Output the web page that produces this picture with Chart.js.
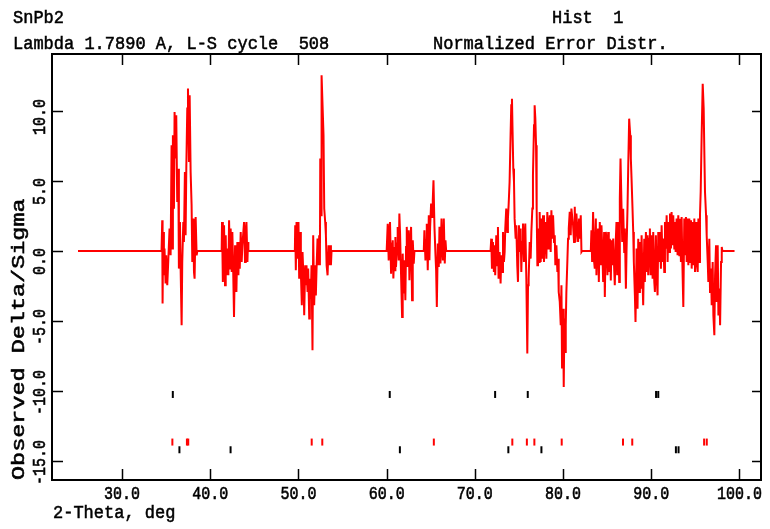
<!DOCTYPE html>
<html>
<head>
<meta charset="utf-8">
<title>SnPb2 - Normalized Error Distr.</title>
<script src="https://cdn.jsdelivr.net/npm/chart.js@4.4.1/dist/chart.umd.min.js"></script>
<style>
  html, body { margin: 0; padding: 0; background: #fff; }
  #wrap { width: 770px; height: 529px; }
</style>
</head>
<body>
<div id="wrap"><canvas id="errChart" width="770" height="529"></canvas></div>
<script>
// axis limits and ticks
const xRange = [22.05, 102.45];
const yRange = [-16.36, 14.07];
const xTicks = [30, 40, 50, 60, 70, 80, 90, 100];
const yTicks = [-15, -10, -5, 0, 5, 10];

// end points of the excluded-region zero line
const traceStart = [25.0, 0];
const traceEnd = [99.45, 0];

// delta/sigma per fitted region, [2-theta, value]
const band1 = [[34.47,0],[34.55,2.19],[34.59,-3.76],[34.66,1.36],[34.74,-1.74],[34.81,0.17],[34.93,-2.33],[35.00,-0.31],[35.12,-2.45],[35.23,-0.79],[35.38,1.60],[35.50,-0.31],[35.61,7.55],[35.69,0.17],[35.76,8.26],[35.88,3.02],[35.95,9.93],[36.06,6.6],[36.14,9.7],[36.25,3.5],[36.37,5.88],[36.44,-1.26],[36.56,2.07],[36.63,-1.02],[36.75,-5.31],[36.82,-0.79],[36.94,2.07],[37.01,0.64],[37.12,5.64],[37.20,1.12],[37.28,5.88],[37.39,10.17],[37.47,11.6],[37.58,6.36],[37.66,11.12],[37.77,5.64],[37.88,3.26],[37.96,-0.79],[38.07,2.31],[38.15,-1.5],[38.22,-1.98],[38.34,2.43],[38.45,-0.31],[38.53,0]];

const band2 = [[41.29,0],[41.33,2.07],[41.41,-0.67],[41.44,-2.21],[41.56,1.84],[41.67,-2.45],[41.75,1.12],[41.82,-1.74],[41.94,0.17],[42.05,-1.74],[42.13,2.19],[42.24,-1.26],[42.31,1.6],[42.43,-1.5],[42.50,1.36],[42.58,-0.79],[42.69,-4.71],[42.81,0.41],[42.88,-1.74],[42.96,-2.93],[43.07,0.64],[43.19,-1.74],[43.26,0.64],[43.34,-1.26],[43.45,1.36],[43.56,-0.79],[43.64,0.41],[43.75,1.36],[43.83,2.07],[43.94,-0.79],[44.02,1.36],[44.10,2.07],[44.21,-0.79],[44.28,0.64],[44.32,0]];

const band3 = [[49.59,0],[49.63,1.84],[49.70,-1.38],[49.78,2.07],[49.89,-0.55],[50.00,2.07],[50.08,-1.98],[50.19,1.36],[50.27,-1.5],[50.38,-3.88],[50.46,-0.07],[50.57,-1.98],[50.65,-4.59],[50.76,-1.02],[50.84,-2.45],[50.91,-1.02],[51.03,-2.93],[51.10,-1.26],[51.22,-4.83],[51.29,-1.98],[51.40,-3.4],[51.48,-1.02],[51.59,-7.09],[51.67,1.12],[51.78,-3.88],[51.90,-1.02],[51.97,-3.17],[52.05,-1.26],[52.16,0.88],[52.28,-1.02],[52.35,1.12],[52.43,-1.02],[52.47,6.6],[52.58,2.55],[52.62,12.55],[52.73,10.41],[52.84,8.26],[52.92,3.03],[53.03,2.07],[53.11,1.12],[53.19,-1.02],[53.30,-1.74],[53.41,0.41],[53.49,-1.02],[53.60,0.41],[53.68,-1.02],[53.75,0]];

const band4 = [[60.00,0],[60.12,1.95],[60.23,-0.67],[60.31,1.24],[60.38,2.07],[60.50,-1.62],[60.61,0.53],[60.69,0.76],[60.76,-1.97],[60.87,0.29],[60.95,-1.38],[60.99,1.0],[61.06,-1.14],[61.18,0.53],[61.25,1.72],[61.37,-0.67],[61.44,2.67],[61.52,1.24],[61.63,-1.62],[61.75,-4.71],[61.82,-0.19],[61.90,-3.04],[62.01,-0.67],[62.12,-3.52],[62.20,0.29],[62.28,1.72],[62.39,-1.14],[62.50,1.48],[62.58,-2.09],[62.69,0.53],[62.77,1.72],[62.88,-3.52],[62.96,0.76],[63.07,-0.9],[63.15,0]];

const band5 = [[64.21,0],[64.28,1.48],[64.40,-0.67],[64.47,0.76],[64.55,1.95],[64.66,-1.38],[64.78,2.55],[64.85,-0.67],[64.93,1.72],[65.04,3.38],[65.15,2.43],[65.23,3.62],[65.31,5.05],[65.42,1.72],[65.53,-0.19],[65.61,-1.38],[65.69,-4.0],[65.80,0.53],[65.91,-1.14],[65.99,1.72],[66.10,-0.9],[66.22,2.31],[66.29,0.29],[66.37,-0.67],[66.48,2.31],[66.59,-0.9],[66.67,0.76],[66.75,0]];

const band6 = [[71.78,0],[71.86,0.88],[71.94,-1.26],[72.05,0.64],[72.16,-1.5],[72.24,0.41],[72.31,-1.74],[72.43,1.12],[72.54,-1.02],[72.62,1.72],[72.69,-1.98],[72.81,-0.07],[72.92,-2.33],[73.00,-0.31],[73.11,-1.5],[73.19,1.36],[73.30,-0.79],[73.38,-0.07],[73.45,1.6],[73.56,3.03],[73.68,1.36],[73.75,2.31],[73.83,3.26],[73.94,4.93],[74.06,8.5],[74.13,10.41],[74.21,10.88],[74.28,8.5],[74.36,5.88],[74.44,4.93],[74.51,2.31],[74.63,0.88],[74.70,1.84],[74.81,-1.02],[74.89,-2.21],[75.00,1.84],[75.08,-0.07],[75.19,1.6],[75.27,-1.5],[75.35,0.64],[75.46,1.96],[75.57,-0.79],[75.65,0.88],[75.72,1.96],[75.84,-1.98],[75.95,-7.33],[76.03,-2.45],[76.10,-1.98],[76.22,0.64],[76.33,-0.55],[76.41,1.36],[76.52,3.03],[76.59,5.41],[76.71,8.98],[76.78,10.41],[76.86,9.46],[76.94,7.55],[77.01,3.03],[77.09,-1.02],[77.16,1.6],[77.28,-0.79],[77.35,2.79],[77.47,-0.79],[77.54,2.31],[77.66,-0.55],[77.73,2.55],[77.84,-0.79],[77.92,1.12],[78.00,2.07],[78.11,-0.55],[78.22,2.79],[78.30,0.17],[78.37,1.6],[78.49,2.55],[78.60,-0.07],[78.68,2.91],[78.79,0.88],[78.87,2.55],[78.98,0.64],[79.06,1.12],[79.13,-1.02],[79.25,0.41],[79.36,-1.5],[79.44,-0.55],[79.51,-2.93],[79.63,-3.64],[79.74,-5.31],[79.82,-2.45],[79.89,-8.4],[80.00,-4.12],[80.08,-9.71],[80.16,-4.83],[80.23,-7.21],[80.31,-5.31],[80.38,-2.93],[80.50,-0.55],[80.57,0.88],[80.65,1.6],[80.76,2.79],[80.87,1.12],[80.95,3.03],[81.06,2.31],[81.14,1.84],[81.25,0.64],[81.33,3.15],[81.41,0.64],[81.52,2.67],[81.63,1.36],[81.71,0.64],[81.82,2.31],[81.90,0.88],[82.01,2.55],[82.09,-0.07],[82.16,0]];

const band7 = [[83.15,0],[83.22,1.48],[83.30,-0.79],[83.41,2.79],[83.53,-0.79],[83.60,-1.26],[83.72,2.31],[83.79,-1.74],[83.91,1.12],[83.98,1.6],[84.06,-2.21],[84.17,2.07],[84.28,-1.02],[84.36,1.84],[84.47,-0.31],[84.55,-2.21],[84.66,1.36],[84.74,-3.28],[84.85,1.36],[84.93,0.88],[85.04,-1.74],[85.12,1.36],[85.19,-1.5],[85.31,0.88],[85.42,-2.1],[85.50,0.76],[85.61,-1.02],[85.69,0.88],[85.80,-1.26],[85.87,-2.45],[85.99,0.88],[86.06,2.07],[86.14,-1.74],[86.25,2.07],[86.37,-2.21],[86.44,3.74],[86.52,6.6],[86.63,3.26],[86.71,0.64],[86.82,3.02],[86.94,-0.07],[87.01,1.6],[87.13,-2.69],[87.20,-0.07],[87.31,3.02],[87.39,5.88],[87.50,9.45],[87.62,8.26],[87.69,6.6],[87.77,5.17],[87.88,3.02],[87.96,1.36],[88.03,-0.79],[88.15,-3.17],[88.22,-5.07],[88.34,0.17],[88.45,-4.12],[88.53,0.88],[88.64,-2.93],[88.72,0.64],[88.83,-2.69],[88.91,1.12],[89.02,-2.21],[89.09,-3.88],[89.21,0.88],[89.28,-2.21],[89.40,1.36],[89.47,-1.5],[89.59,1.12],[89.66,-1.74],[89.78,0.88],[89.85,1.6],[89.93,-1.74],[90.04,1.12],[90.16,-1.98],[90.23,1.36],[90.35,-2.21],[90.42,-2.93],[90.53,1.12],[90.61,-1.74],[90.72,-3.17],[90.80,1.36],[90.87,-0.79],[90.99,1.36],[91.10,-1.26],[91.18,1.84],[91.29,-0.79],[91.37,0.88],[91.48,-1.5],[91.56,2.07],[91.67,0.17],[91.75,2.55],[91.86,-0.79],[91.94,2.07],[92.05,-0.07],[92.13,2.67],[92.24,0.17],[92.31,2.79],[92.43,0.41],[92.50,2.55],[92.62,0.17],[92.69,2.07],[92.77,-0.07],[92.88,2.31],[92.99,-0.31],[93.07,2.55],[93.19,-0.31],[93.26,2.31],[93.37,-0.79],[93.45,2.43],[93.53,-0.79],[93.64,-4.0],[93.75,2.31],[93.83,-0.31],[93.94,2.43],[94.02,-0.79],[94.13,2.31],[94.21,-1.02],[94.32,2.31],[94.40,-0.79],[94.51,2.19],[94.59,-1.26],[94.70,2.07],[94.78,-1.02],[94.89,2.31],[94.97,-1.5],[95.08,2.07],[95.16,-0.79],[95.27,-1.5],[95.35,2.31],[95.46,-0.79],[95.53,2.55],[95.61,4.21],[95.72,8.26],[95.84,11.95],[95.95,10.17],[96.03,6.84],[96.10,4.21],[96.22,2.55],[96.29,1.12],[96.41,-0.79],[96.48,-2.21],[96.59,0.88],[96.67,-2.93],[96.78,-1.26],[96.86,-3.88],[96.97,-0.79],[97.05,-4.6],[97.16,-6.02],[97.24,-1.74],[97.35,0.41],[97.43,-3.64],[97.54,0.41],[97.62,-4.6],[97.73,-2.69],[97.81,-5.31],[97.92,-0.79],[98.00,0.29],[98.07,0]];

// reflection positions (2-theta) and the row each set is drawn on
const reflUpperBlack = [35.75, 60.35, 72.3, 76.0, 90.55, 90.8];
const reflRed = [35.7, 37.35, 37.5, 51.5, 52.7, 65.35, 74.25, 75.9, 76.75, 79.85, 86.8, 87.85, 96.0, 96.3];
const reflLowerBlack = [36.5, 42.3, 61.5, 73.8, 77.55, 92.8, 93.1];
const rowUpperBlack = -10.25;
const rowRed = -13.65;
const rowLowerBlack = -14.2;

const toPoints = arr => arr.map(([x, y]) => ({ x, y }));
const errorTrace = toPoints([traceStart, ...band1, ...band2, ...band3, ...band4, ...band5, ...band6, ...band7, traceEnd]);
const tickRow = (xs, level) => xs.map(x => ({ x, y: level }));

const FONT = '"Liberation Mono", "Courier New", monospace';

// plotter-style text: a thin stroke over the fill makes it a little heavier
function plotText(ctx, str, x, y, sy) {
    ctx.save();
    ctx.translate(x, y);
    ctx.scale(1, sy || 1);
    ctx.fillText(str, 0, 0);
    ctx.strokeText(str, 0, 0);
    ctx.restore();
}

// frame, inward ticks and all the text in GSAS style
const gsasFrame = {
    id: 'gsasFrame',
    afterDatasetsDraw(chart) {
        const { ctx, chartArea: a, scales: { x, y } } = chart;
        ctx.save();
        ctx.strokeStyle = '#000';
        ctx.lineWidth = 2;
        ctx.strokeRect(a.left, a.top, a.right - a.left, a.bottom - a.top);

        ctx.lineWidth = 1.5;
        ctx.beginPath();
        xTicks.forEach(v => {
            const px = Math.round(x.getPixelForValue(v)) + 0.5;
            ctx.moveTo(px, a.bottom); ctx.lineTo(px, a.bottom - 11);
            ctx.moveTo(px, a.top); ctx.lineTo(px, a.top + 11);
        });
        yTicks.forEach(v => {
            const py = Math.round(y.getPixelForValue(v)) + 0.5;
            ctx.moveTo(a.left, py); ctx.lineTo(a.left + 11, py);
            ctx.moveTo(a.right, py); ctx.lineTo(a.right - 9, py);
        });
        ctx.stroke();

        ctx.fillStyle = '#000';
        ctx.lineWidth = 0.5;
        ctx.font = '15px ' + FONT;
        ctx.textAlign = 'center';
        ctx.textBaseline = 'middle';
        xTicks.forEach(v => plotText(ctx, v.toFixed(1), x.getPixelForValue(v), 494, 1.2));

        ctx.textAlign = 'left';
        yTicks.forEach(v => {
            ctx.save();
            ctx.translate(40, y.getPixelForValue(v) + 24);
            ctx.rotate(-Math.PI / 2);
            plotText(ctx, v.toFixed(1), 0, 0, 1.2);
            ctx.restore();
        });

        // y title is stretched along its length
        ctx.save();
        ctx.font = '17px ' + FONT;
        ctx.translate(19, a.bottom);
        ctx.rotate(-Math.PI / 2);
        ctx.scale(1.38, 1);
        plotText(ctx, 'Observed Delta/Sigma', 0, 0, 1.1);
        ctx.restore();

        ctx.font = '17px ' + FONT;
        ctx.textBaseline = 'alphabetic';
        plotText(ctx, 'SnPb2', 13, 23, 1.1);
        plotText(ctx, 'Hist  1', 552, 23, 1.1);
        plotText(ctx, 'Lambda 1.7890 A, L-S cycle  508', 13, 49, 1.1);
        plotText(ctx, 'Normalized Error Distr.', 433, 49, 1.1);
        plotText(ctx, '2-Theta, deg', 53, 518, 1.1);
        ctx.restore();
    }
};

const reflStyle = color => ({
    type: 'scatter',
    showLine: false,
    pointStyle: 'line',
    rotation: 90,
    radius: 3.5,
    borderWidth: 2,
    borderColor: color,
    backgroundColor: color
});

new Chart(document.getElementById('errChart'), {
    type: 'scatter',
    data: {
        datasets: [
            {
                label: 'Delta/Sigma',
                data: errorTrace,
                showLine: true,
                borderColor: '#ff0000',
                borderWidth: 2,
                pointRadius: 0,
                tension: 0
            },
            Object.assign({ label: 'upper black', data: tickRow(reflUpperBlack, rowUpperBlack) }, reflStyle('#000000')),
            Object.assign({ label: 'red', data: tickRow(reflRed, rowRed) }, reflStyle('#ff0000')),
            Object.assign({ label: 'lower black', data: tickRow(reflLowerBlack, rowLowerBlack) }, reflStyle('#000000'))
        ]
    },
    options: {
        responsive: false,
        animation: false,
        layout: { padding: { left: 52, top: 54, right: 9, bottom: 49 } },
        plugins: { legend: { display: false }, tooltip: { enabled: false } },
        scales: {
            x: { type: 'linear', min: xRange[0], max: xRange[1], display: false },
            y: { type: 'linear', min: yRange[0], max: yRange[1], display: false }
        }
    },
    plugins: [gsasFrame]
});
</script>
</body>
</html>
